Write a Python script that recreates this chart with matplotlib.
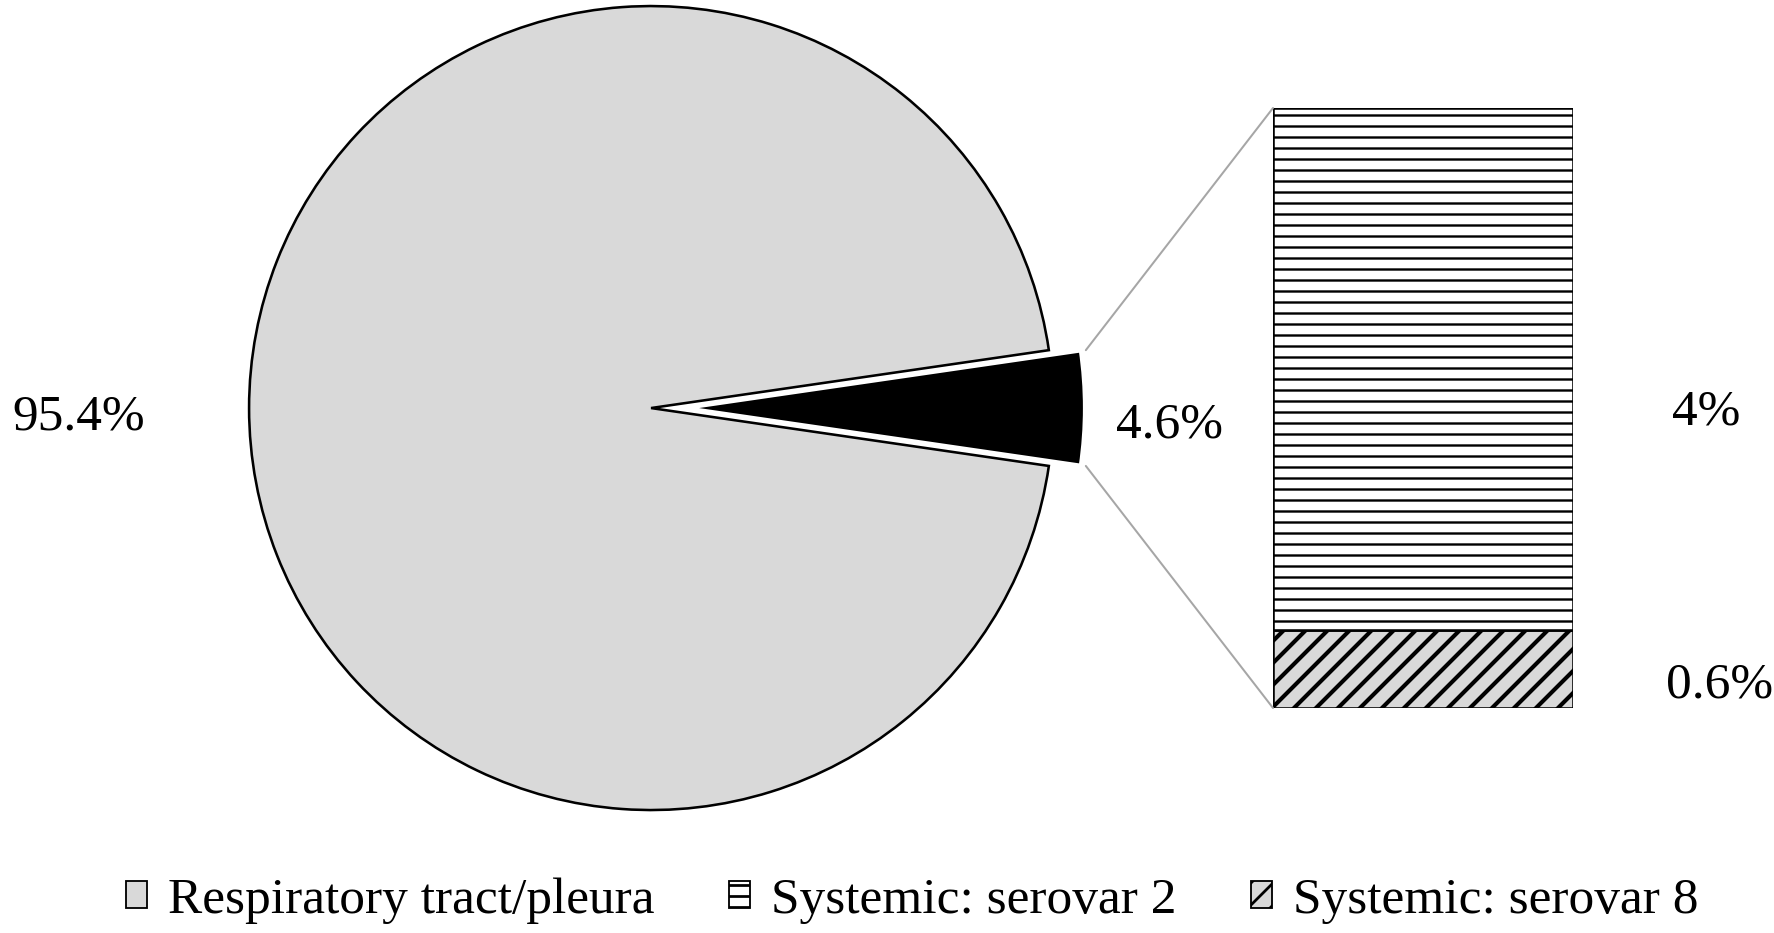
import matplotlib
matplotlib.use("Agg")
from matplotlib import pyplot as plt
from matplotlib.patches import ConnectionPatch, Patch
import numpy as np

plt.rcParams['font.family'] = ['Liberation Serif', 'DejaVu Serif']
plt.rcParams['hatch.linewidth'] = 3.0

# data
pie_labels = ["Respiratory tract/pleura", "Systemic"]
pie_values = [95.4, 4.6]
bar_labels = ["Systemic: serovar 8", "Systemic: serovar 2"]
bar_values = [0.6, 4.0]

DPI = 66
fig = plt.figure(figsize=(1774 / DPI, 933 / DPI), dpi=DPI)
FS = 56

# pie
lim = 1.1
ax1 = fig.add_axes([0.367 - 0.2266 * lim, 0.5627 - 0.4309 * lim, 0.4532 * lim, 0.8617 * lim])
half = pie_values[1] / 100 * 360 / 2
ex = 0.08
wedges, _ = ax1.pie(pie_values, colors=["#d9d9d9", "black"], startangle=half,
                    explode=[0, ex], radius=1,
                    wedgeprops=dict(linewidth=2.8, edgecolor="black"))
wedges[1].set_edgecolor("white")
wedges[1].set_linewidth(5)
wedges[1].set_zorder(3)
ax1.set_xlim(-lim, lim)
ax1.set_ylim(-lim, lim)
ax1.set_aspect("equal")
ax1.axis("off")
ax1.text(-1.425, -0.01, "95.4%", fontsize=FS, ha="center", va="center_baseline")
ax1.text(1.289, -0.03, "4.6%", fontsize=FS, ha="center", va="center_baseline")

# bar of pie
ax2 = fig.add_axes([1273 / 1774, (933 - 708) / 933, 300 / 1774, 600 / 933])
bottom = 0
bars = []
styles = [dict(color="#d9d9d9", hatch="/", hlw=4.5), dict(color="white", hatch="-", hlw=2.6)]
for v, st in zip(bar_values, styles):
    b = ax2.bar(0, v, width=1, bottom=bottom, color=st["color"], hatch=st["hatch"],
                edgecolor="black", linewidth=2.8)
    if hasattr(b[0], "set_hatch_linewidth"):
        b[0].set_hatch_linewidth(st["hlw"])
    bars.append(b[0])
    bottom += v
ax2.set_xlim(-0.5, 0.5)
ax2.set_ylim(0, sum(bar_values))
ax2.axis("off")
ax2.text(0.943, 2.31, "4%", fontsize=FS, ha="center", va="center_baseline")
ax2.text(0.99, 0.215, "0.6%", fontsize=FS, ha="center", va="center_baseline")

# connecting lines
th = np.deg2rad(half)
for sgn, yb in [(1, sum(bar_values)), (-1, 0)]:
    con = ConnectionPatch(xyA=(ex + np.cos(th) + 0.012, sgn * np.sin(th)), coordsA=ax1.transData,
                          xyB=(-0.5, yb), coordsB=ax2.transData,
                          color="#a6a6a6", linewidth=2.2)
    fig.add_artist(con)

# legend
handles = [Patch(facecolor="#d9d9d9", edgecolor="black", linewidth=2),
           Patch(facecolor="white", edgecolor="black", hatch="-", linewidth=2),
           Patch(facecolor="#d9d9d9", edgecolor="black", hatch="/", linewidth=2)]
names = [pie_labels[0], bar_labels[1], bar_labels[0]]
fig.legend(handles, names, loc="center", bbox_to_anchor=(0.514, 0.035), ncol=3,
           frameon=False, fontsize=FS, handlelength=0.42, handleheight=0.42,
           handletextpad=0.4, columnspacing=1.45)

fig.savefig("out.png", dpi=DPI)
